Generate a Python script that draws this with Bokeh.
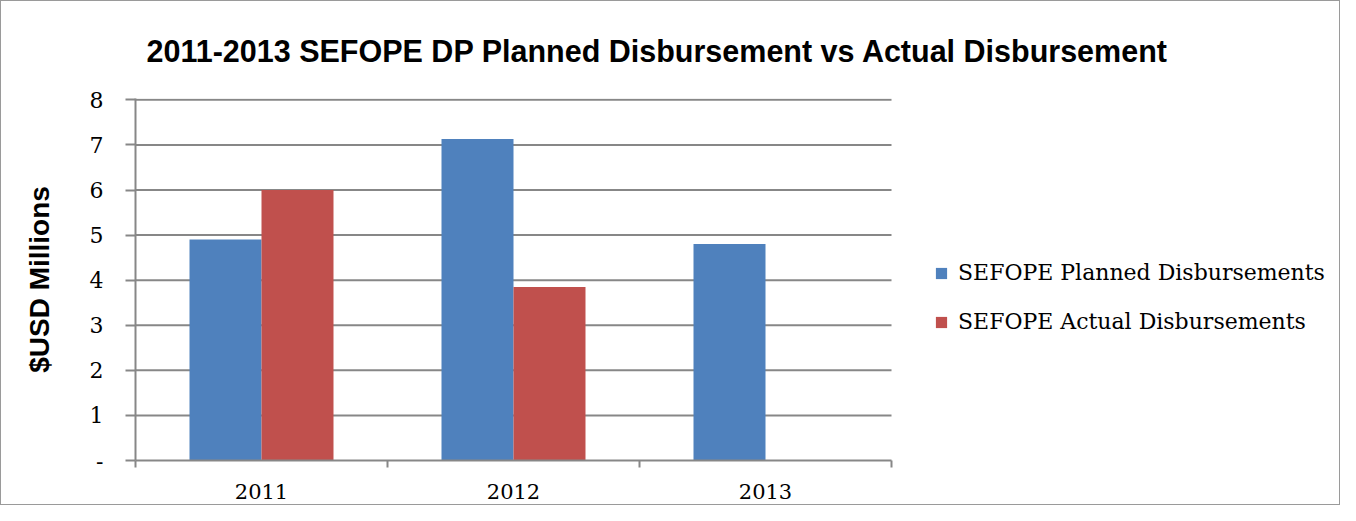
import math
from bokeh.plotting import figure
from bokeh.models import (ColumnDataSource, Range1d, FixedTicker, Legend,
                          LegendItem)
from bokeh.transform import dodge
from bokeh.embed import file_html
from bokeh.resources import INLINE

# ---- data ----
years = ["2011", "2012", "2013"]
planned = [4.9, 7.13, 4.8]
actual = [6.0, 3.85, float("nan")]
y_ticks = [0, 1, 2, 3, 4, 5, 6, 7, 8]
y_tick_labels = ["-", "1", "2", "3", "4", "5", "6", "7", "8"]
series_names = ["SEFOPE Planned Disbursements", "SEFOPE Actual Disbursements"]
title_text = "2011-2013 SEFOPE DP Planned Disbursement vs Actual Disbursement"
y_label_text = "$USD Millions"

BLUE = "#4F81BD"
RED = "#C0504D"
GRID = "#878787"
SERIF = "DejaVu Serif"
SANS = "Liberation Sans"

idx = list(range(len(years)))
src = ColumnDataSource(dict(idx=idx, planned=planned, actual=actual))

# layout in pixels
W, H = 1340, 505
FL, FT, FB = 134, 97, 459       # frame left / top / bottom
CAT_RIGHT = 890                 # right end of the category axis
FR = W - 8                      # frame extends right so the legend can sit inside
x0, x1 = -0.5, len(years) - 0.5
ppu = (CAT_RIGHT - FL) / (x1 - x0)
x_end = x1 + (FR - CAT_RIGHT) / ppu

p = figure(width=W, height=H, output_backend="svg", toolbar_location=None,
           x_range=Range1d(x0, x_end), y_range=Range1d(0, 8.03),
           min_border_left=FL, min_border_right=W - FR, min_border_top=FT,
           min_border_bottom=H - FB)
p.styles = {"border": "1px solid #9a9a9a"}
p.outline_line_color = None
p.background_fill_color = "white"
p.border_fill_color = "white"

# title
p.title.text = title_text
p.title.text_font = SANS
p.title.text_font_style = "bold"
p.title.text_font_size = "30.5px"
p.title.text_color = "black"
p.title.align = "left"
p.title.offset = 11
p.title.vertical_align = "middle"
p.title.standoff = 59

# horizontal grid lines, limited to the category area
grid_src = ColumnDataSource(dict(y=y_ticks[1:],
                                 xs=[x0] * (len(y_ticks) - 1),
                                 xe=[x1] * (len(y_ticks) - 1)))
p.segment(x0="xs", x1="xe", y0="y", y1="y", source=grid_src,
          line_color=GRID, line_width=2)

bw = 0.2857
r1 = p.vbar(x=dodge("idx", -bw / 2, range=p.x_range), top="planned", width=bw,
            source=src, fill_color=BLUE, line_color=None)
r2 = p.vbar(x=dodge("idx", bw / 2, range=p.x_range), top="actual", width=bw,
            source=src, fill_color=RED, line_color=None)

# x axis
xa = p.xaxis[0]
xa.bounds = (x0, x1)
xa.ticker = FixedTicker(ticks=idx, minor_ticks=[i - 0.5 for i in idx] + [idx[-1] + 0.5])
xa.major_label_overrides = {i: y for i, y in zip(idx, years)}
xa.major_tick_line_color = None
xa.major_tick_out = 0
xa.major_tick_in = 0
xa.minor_tick_out = 7
xa.minor_tick_in = 0
xa.minor_tick_line_color = GRID
xa.minor_tick_line_width = 2
xa.axis_line_color = GRID
xa.axis_line_width = 2
xa.major_label_text_font = SERIF
xa.major_label_text_font_size = "21px"
xa.major_label_text_color = "black"
xa.major_label_standoff = 16

# y axis
ya = p.yaxis[0]
ya.ticker = FixedTicker(ticks=y_ticks, minor_ticks=[])
ya.major_label_overrides = {t: l for t, l in zip(y_ticks, y_tick_labels)}
ya.major_tick_out = 10
ya.major_tick_in = 0
ya.major_tick_line_color = GRID
ya.major_tick_line_width = 2
ya.axis_line_color = GRID
ya.axis_line_width = 2
ya.major_label_text_font = SERIF
ya.major_label_text_font_size = "22px"
ya.major_label_text_color = "black"
ya.major_label_standoff = 22
ya.axis_label = y_label_text
ya.axis_label_text_font = SANS
ya.axis_label_text_font_style = "bold"
ya.axis_label_text_font_size = "28px"
ya.axis_label_text_color = "black"
ya.axis_label_standoff = 32

p.xgrid.grid_line_color = None
p.ygrid.grid_line_color = None

legend = Legend(items=[LegendItem(label=series_names[0], renderers=[r1]),
                       LegendItem(label=series_names[1], renderers=[r2])],
                location=(933 - FL, 126), orientation="vertical")
legend.glyph_width = 14
legend.glyph_height = 14
legend.label_height = 24
legend.spacing = 24
legend.label_standoff = 10
legend.padding = 0
legend.margin = 0
legend.border_line_color = None
legend.background_fill_alpha = 0
legend.label_text_font = SERIF
legend.label_text_font_size = "22px"
legend.label_text_color = "black"
p.add_layout(legend)

open("out.html", "w").write(file_html(p, INLINE))
